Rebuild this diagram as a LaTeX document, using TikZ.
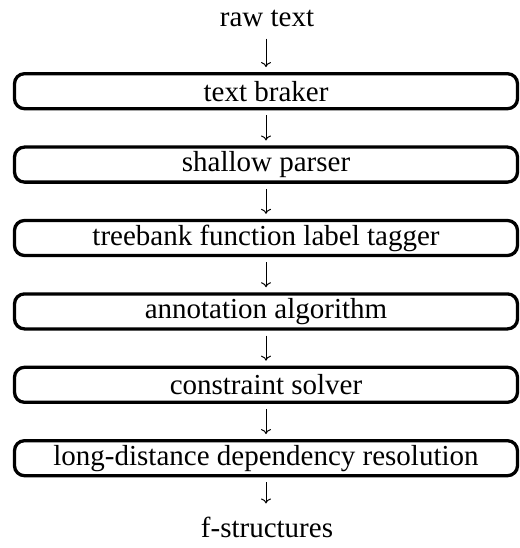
\documentclass[tikz,border=0pt]{standalone}
\usepackage{fontspec}
\setmainfont{Liberation Serif}
\usetikzlibrary{arrows.meta}
\begin{document}
\begin{tikzpicture}[x=1pt,y=-1pt,
  stagebox/.style={draw, line width=3.3pt, rounded corners=10pt, minimum width=503pt, minimum height=35pt, inner sep=0pt, font=\fontsize{29}{33}\selectfont},
  plain/.style={inner sep=0pt, font=\fontsize{29}{33}\selectfont},
  flow/.style={line width=1pt, -{To[length=5pt,width=10pt]}}]
\useasboundingbox (0,0) rectangle (519,548);
\node[plain] (raw) at (267,18) {raw text};
\node[stagebox] (b1) at (266,91.2) {text braker};
\node[stagebox] (b2) at (266,164.6) {shallow parser};
\node[stagebox] (b3) at (266,238) {treebank function label tagger};
\node[stagebox] (b4) at (266,311.4) {annotation algorithm};
\node[stagebox] (b5) at (266,384.8) {constraint solver};
\node[stagebox] (b6) at (266,458.2) {long-distance dependency resolution};
\node[plain] (fs) at (267,527) {f-structures};
\draw[flow, shorten <=12pt, shorten >=5pt] (raw.south -| b1.north) -- (b1.north);
\draw[flow, shorten <=5pt, shorten >=5pt] (b1.south) -- (b2.north);
\draw[flow, shorten <=5pt, shorten >=5pt] (b2.south) -- (b3.north);
\draw[flow, shorten <=5pt, shorten >=5pt] (b3.south) -- (b4.north);
\draw[flow, shorten <=5pt, shorten >=5pt] (b4.south) -- (b5.north);
\draw[flow, shorten <=5pt, shorten >=5pt] (b5.south) -- (b6.north);
\draw[flow, shorten <=5pt, shorten >=13pt] (b6.south) -- (fs.north -| b6.south);
\end{tikzpicture}
\end{document}
